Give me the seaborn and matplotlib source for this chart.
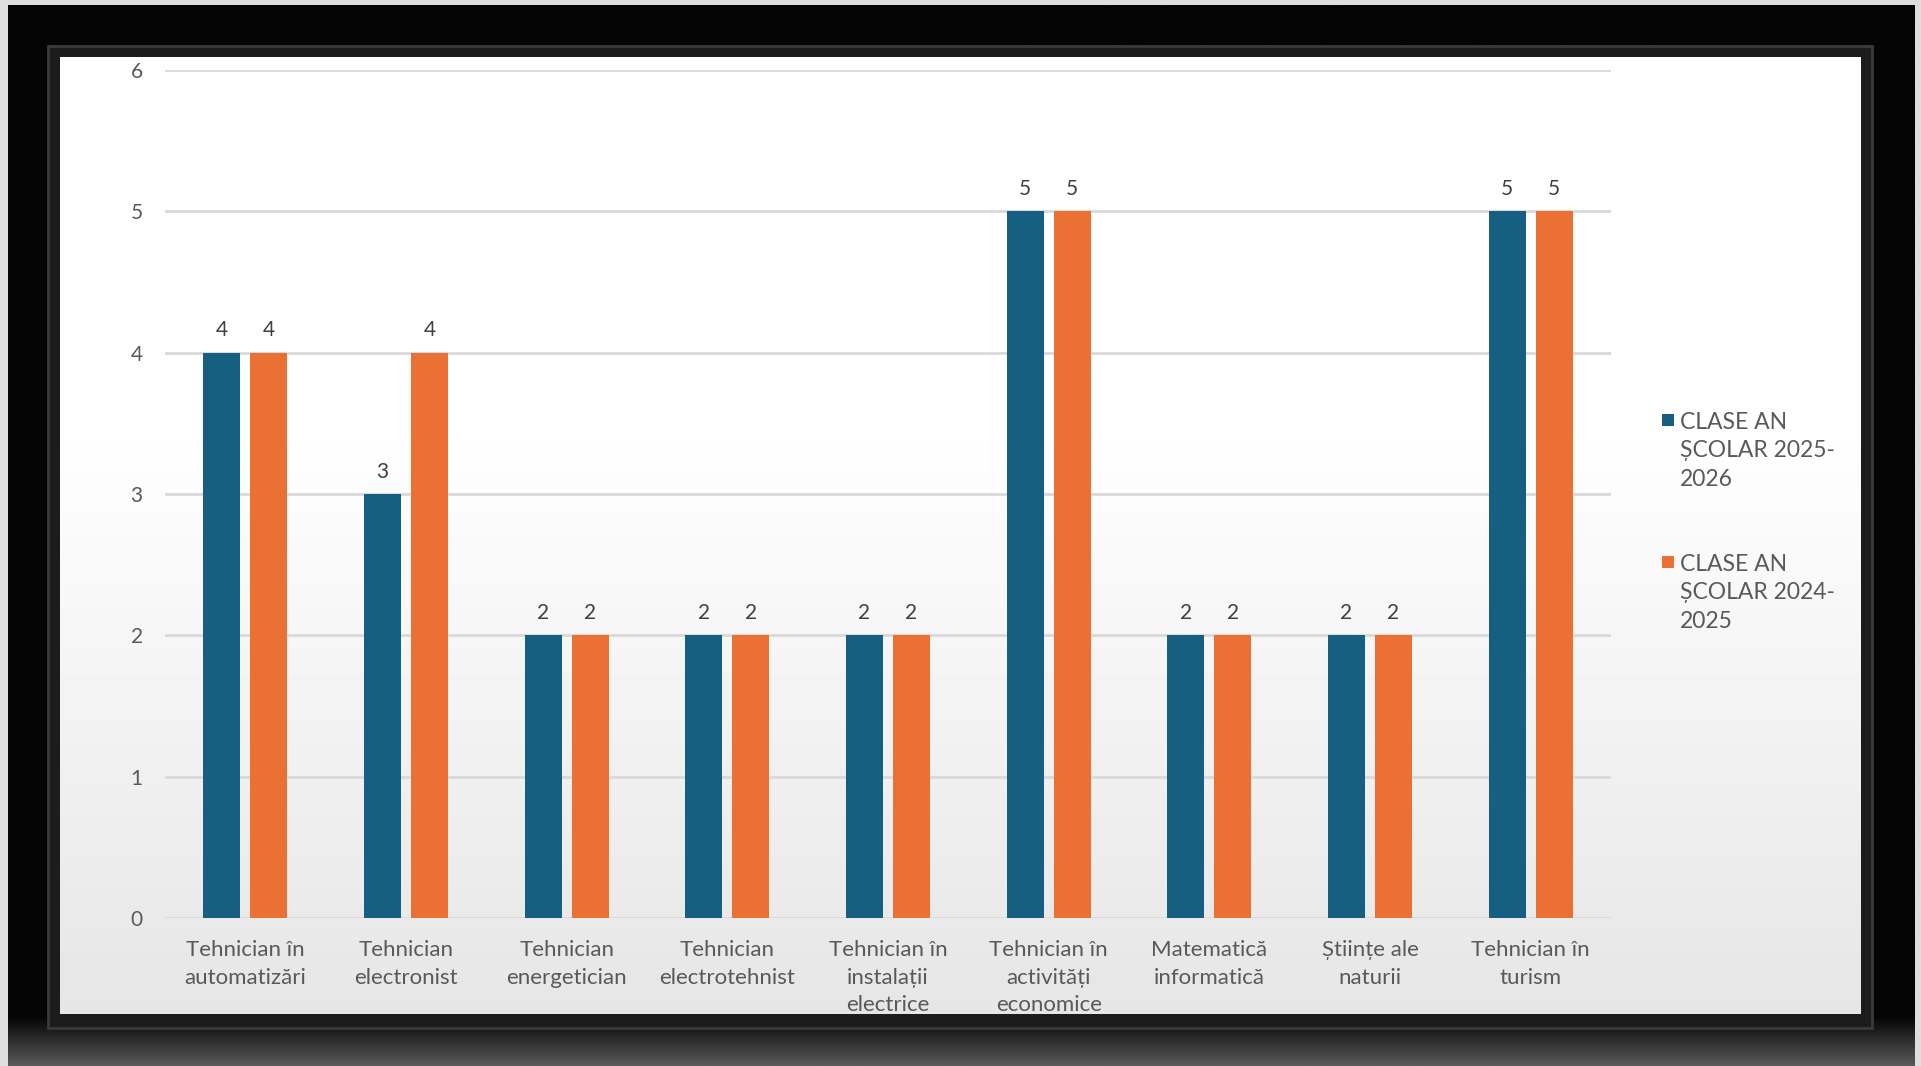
import numpy as np
import pandas as pd
import matplotlib
matplotlib.use("Agg")
import matplotlib.pyplot as plt
from matplotlib.patches import Rectangle
import seaborn as sns

categories = [
    "Tehnician în\nautomatizări",
    "Tehnician\nelectronist",
    "Tehnician\nenergetician",
    "Tehnician\nelectrotehnist",
    "Tehnician în\ninstalații\nelectrice",
    "Tehnician în\nactivități\neconomice",
    "Matematică\ninformatică",
    "Științe ale\nnaturii",
    "Tehnician în\nturism",
]
series_names = ["CLASE AN ȘCOLAR 2025-2026", "CLASE AN ȘCOLAR 2024-2025"]
legend_labels = ["CLASE AN\nȘCOLAR 2025-\n2026", "CLASE AN\nȘCOLAR 2024-\n2025"]
values_2025_2026 = [4, 3, 2, 2, 2, 5, 2, 2, 5]
values_2024_2025 = [4, 4, 2, 2, 2, 5, 2, 2, 5]
y_ticks = [0, 1, 2, 3, 4, 5, 6]
colors = ["#175F82", "#EA7034"]

sns.set_theme(style="white")
plt.rcParams["font.family"] = ["Lato", "DejaVu Sans"]

W, H = 1921, 1066
fig = plt.figure(figsize=(W / 100, H / 100), dpi=100)
fig.patch.set_facecolor("#dedede")

def fx(px):
    return px / W

def fy(py):
    return 1 - py / H

# Frame (decoration): black outer with a lighter gradient at the bottom edge
frame = fig.add_axes([fx(8), 0, fx(1915) - fx(8), fy(5)], zorder=-10)
tf = np.linspace(0, 1, 512)
fv = np.where(tf < 0.955, 0.02, 0.02 + (tf - 0.955) / 0.045 * 0.33)
frame.imshow(fv.reshape(-1, 1), aspect="auto", cmap="gray", vmin=0, vmax=1,
             extent=[0, 1, 0, 1], origin="upper")
frame.axis("off")
fig.patches.append(Rectangle((fx(48), fy(1028)), fx(1872) - fx(48), fy(46) - fy(1028),
                             transform=fig.transFigure, facecolor="#1c1c1c",
                             edgecolor="#3a3a3a", linewidth=2, zorder=-8))

# Inner gradient panel
bg = fig.add_axes([fx(60), fy(1014), fx(1861) - fx(60), fy(57) - fy(1014)], zorder=-5)
t = np.linspace(0, 1, 256)
vals = np.where(t < 0.38, 1.0, 1.0 - (t - 0.38) / 0.62 * 0.10)
bg.imshow(vals.reshape(-1, 1), aspect="auto", cmap="gray", vmin=0, vmax=1,
          extent=[0, 1, 0, 1], origin="upper")
bg.axis("off")

# Main axes
ax = fig.add_axes([fx(165), fy(918), fx(1611) - fx(165), fy(70) - fy(918)])
ax.patch.set_alpha(0)

df = pd.DataFrame({
    "cat": categories * 2,
    "serie": [series_names[0]] * len(categories) + [series_names[1]] * len(categories),
    "val": values_2025_2026 + values_2024_2025,
})
sns.barplot(data=df, x="cat", y="val", hue="serie", palette=colors, ax=ax,
            width=0.585, gap=0.21, saturation=1, legend=False, errorbar=None,
            linewidth=0)

for cont in ax.containers:
    ax.bar_label(cont, fmt="%g", padding=9, fontsize=15, color="#404040")

ax.set_ylim(0, 6)
ax.set_xlim(-0.5, len(categories) - 0.5)
ax.set_yticks(y_ticks)
ax.set_yticklabels([str(v) for v in y_ticks])
ax.yaxis.grid(True, color="#d9d9d9", linewidth=2)
ax.set_axisbelow(True)
for s in ax.spines.values():
    s.set_visible(False)
ax.tick_params(axis="y", length=0, pad=16, labelsize=15, labelcolor="#595959")
ax.tick_params(axis="x", length=0, pad=16, labelsize=16, labelcolor="#595959")
for lbl in ax.get_xticklabels():
    lbl.set_linespacing(1.46)
    lbl.set_verticalalignment("top")
ax.set_xlabel("")
ax.set_ylabel("")

# Legend (manual, handle aligned to the first text line)
leg_tops = [420, 562]
for lab, col, yy in zip(legend_labels, colors, leg_tops):
    fig.patches.append(Rectangle((fx(1662), fy(yy + 6)), 12 / W, 12 / H,
                                 transform=fig.transFigure, facecolor=col, edgecolor="none"))
    fig.text(fx(1680), fy(yy - 8), lab, fontsize=16.5, color="#595959",
             va="top", ha="left", linespacing=1.43)

fig.savefig("out.png", dpi=100)
